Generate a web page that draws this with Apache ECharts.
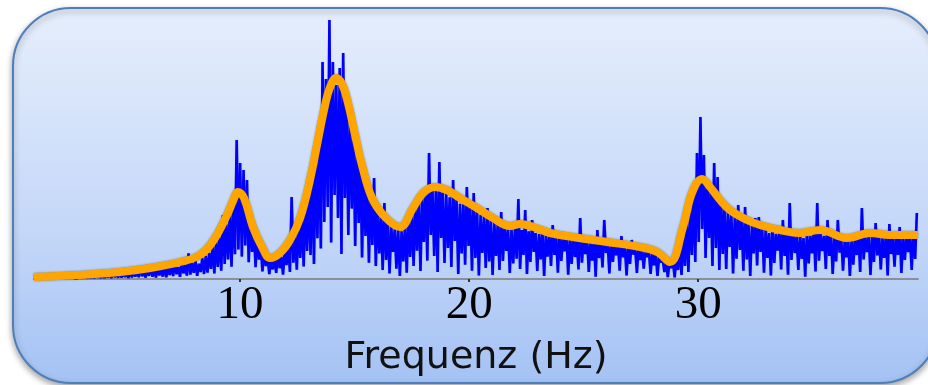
<!DOCTYPE html>
<html>
<head>
<meta charset="utf-8">
<style>
  html, body { margin: 0; padding: 0; background: #ffffff; }
  #chart { width: 928px; height: 385px; }
</style>
<script src="https://cdn.jsdelivr.net/npm/echarts@6.0.0/dist/echarts.min.js"></script>
</head>
<body>
<div id="chart"></div>
<script>
// Raw amplitude spectrum, sampled every 0.075 Hz starting at 1 Hz
const specStart = 1.0;
const specStep = 0.075;
const spectrum = [
  1.2,0.2, 1.6,0.4, 1.0,0.1, 1.8,0.3, 1.3,0.2, 1.5,0.5, 1.1,0.2, 1.9,0.3, 1.4,0.4, 1.7,0.2,
  1.8,0.3, 2.2,0.5, 1.5,0.2, 2.4,0.4, 2.0,0.6, 2.7,0.3, 1.9,0.5, 2.5,0.3, 2.9,0.7, 2.2,0.4,
  3.1,0.5, 2.6,0.8, 3.4,0.4, 3.8,0.9, 2.9,0.6, 4.2,0.7, 3.5,1.0, 3.0,0.5, 4.4,0.8, 3.7,1.2,
  4.1,0.9, 5.2,1.4, 3.8,0.7, 4.8,1.6, 6.3,1.1, 4.5,0.8, 5.6,1.8, 5.0,1.2, 6.1,0.9, 5.4,2.0,
  6.4,1.5, 7.8,2.4, 5.9,1.1, 8.5,2.8, 7.1,1.7, 12.8,2.2, 8.0,3.1, 9.2,1.6, 7.6,3.5, 10.4,2.5,
  11.5,3.2, 13.0,5.1, 16.2,2.8, 19.5,6.0, 20.8,4.2, 32.0,7.5, 27.4,9.8, 33.5,6.1, 38.0,12.4, 69.5,14.8,
  58.0,11.2, 54.5,16.8, 49.5,8.4, 31.0,13.5, 25.2,5.9, 21.4,9.7, 16.8,3.8, 14.1,6.5, 10.9,2.4, 9.6,4.8,
  10.2,3.1, 12.6,5.4, 11.0,2.2, 14.8,6.9, 17.5,3.5, 41.0,8.2, 22.4,4.6, 27.9,10.5, 31.5,6.3, 39.2,14.0,
  45.5,12.0, 55.2,7.5, 63.8,20.4, 70.5,15.2, 108.5,28.5, 100.0,36.0, 129.5,18.2, 108.5,42.0, 97.0,30.5, 105.5,12.5,
  113.0,40.5, 88.0,22.0, 84.5,35.2, 74.0,16.5, 68.2,28.0, 60.5,10.8, 55.8,21.5, 48.0,8.2, 43.5,17.0, 50.5,6.5,
  36.5,12.8, 31.2,4.5, 38.0,9.5, 28.5,2.8, 26.2,13.5, 24.8,5.2, 25.5,1.5, 23.9,8.8, 27.0,3.2, 30.4,11.0,
  33.0,6.5, 36.8,14.2, 39.5,4.0, 41.8,18.5, 45.0,9.2, 63.0,22.0, 44.5,11.5, 46.0,3.5, 58.5,20.5, 43.2,8.0,
  42.5,15.5, 40.8,6.0, 49.5,19.0, 39.5,2.5, 37.6,12.8, 38.2,7.2, 46.0,16.5, 35.8,4.2, 43.0,10.5, 33.5,1.8,
  32.0,13.0, 31.5,5.5, 35.5,8.8, 29.2,2.0, 28.5,11.5, 27.8,4.5, 33.5,9.0, 26.0,14.0, 25.5,3.0, 24.8,7.8,
  25.2,10.2, 40.0,5.0, 24.5,12.0, 34.5,2.5, 23.8,8.5, 29.5,13.5, 23.0,4.0, 22.5,9.8, 24.5,1.5, 21.8,11.2,
  22.0,6.5, 27.0,12.0, 21.2,3.2, 23.5,9.0, 20.5,13.8, 22.8,2.2, 20.0,7.5, 21.8,11.0, 19.5,4.8, 30.5,8.2,
  19.8,12.5, 21.0,3.5, 18.5,9.2, 20.2,1.2, 24.5,10.5, 18.8,5.8, 29.5,13.0, 18.0,2.8, 19.5,8.5, 17.5,11.8,
  17.8,4.2, 21.5,10.8, 16.5,1.8, 17.2,7.5, 19.5,12.2, 15.8,3.0, 16.4,9.5, 14.5,5.2, 15.2,11.0, 13.8,2.5,
  13.5,6.8, 12.2,1.5, 11.5,8.2, 10.2,3.5, 9.0,1.0, 8.2,5.5, 8.8,0.8, 11.0,4.5, 15.5,2.0, 21.5,6.5,
  28.0,3.5, 36.5,12.0, 42.0,8.5, 63.0,18.5, 81.0,25.0, 62.0,10.5, 49.0,20.5, 46.0,6.5, 58.0,15.5, 51.0,4.5,
  41.0,12.5, 36.0,5.0, 33.8,16.0, 32.5,2.8, 30.8,10.2, 37.0,14.5, 29.2,4.2, 36.0,9.8, 27.5,1.5, 26.8,12.8,
  30.5,6.8, 31.0,13.5, 24.8,3.2, 25.5,10.5, 23.0,1.8, 26.5,8.0, 22.5,14.2, 24.0,4.8, 29.5,11.5, 22.0,2.2,
  38.0,9.5, 23.5,13.0, 21.2,4.5, 22.8,10.0, 20.5,1.2, 23.8,7.8, 21.5,12.8, 24.2,3.8, 38.0,9.2, 22.5,14.0,
  21.5,5.0, 29.5,11.5, 23.0,2.5, 21.0,8.8, 29.5,13.2, 20.2,4.2, 19.5,10.8, 21.0,1.5, 19.8,7.2, 20.8,12.0,
  21.5,3.5, 35.5,9.8, 20.8,13.5, 22.2,2.0, 21.0,8.5, 28.0,11.8, 22.5,4.8, 20.5,10.5, 21.8,1.8, 27.5,12.5,
  21.0,6.2, 22.8,12.0, 26.0,3.0, 20.5,9.5, 22.0,13.5, 21.2,4.5, 24.0,10.0, 33.0
];

// Smoothed envelope of the spectrum (frequency in Hz, level)
const envFreq  = [1.00, 3.01, 4.76, 6.07, 7.38, 8.25, 8.82, 9.43, 9.69, 9.91, 10.17, 10.56, 10.96, 11.31,
                  11.74, 12.18, 12.62, 13.05, 13.40, 13.71, 13.93, 14.19, 14.45, 14.71, 15.02, 15.32, 15.76,
                  16.33, 16.98, 17.55, 17.99, 18.51, 19.03, 19.60, 20.34, 21.04, 21.79, 22.22, 22.79, 23.53,
                  24.54, 26.02, 27.46, 28.21, 28.77, 29.34, 29.73, 30.17, 30.52, 30.96, 31.39, 32.14, 32.70,
                  33.58, 34.45, 35.32, 36.50, 37.51, 38.38, 39.60];
const envLevel = [1.0, 2.0, 3.5, 5.5, 8.5, 12.0, 19.0, 32.0, 39.0, 43.5, 40.5, 26.0, 16.0, 10.5,
                  13.0, 19.5, 30.5, 49.5, 69.5, 87.0, 96.0, 100.5, 97.5, 88.0, 72.0, 57.0, 40.5,
                  31.0, 26.0, 35.5, 43.0, 46.0, 44.5, 40.5, 35.5, 30.5, 26.5, 27.5, 26.0, 23.0,
                  21.0, 18.5, 16.0, 13.5, 8.5, 26.0, 43.0, 50.0, 46.0, 39.5, 34.5, 29.5, 27.0,
                  24.5, 23.0, 24.5, 20.5, 23.0, 22.0, 22.0];

// Frequency axis
const freqMin = 1;
const freqMax = 39.6;
const freqTicks = [10, 20, 30];
const axisTitle = 'Frequenz (Hz)';

const spectrumData = spectrum.map((v, i) => [+(specStart + i * specStep).toFixed(3), v]);
const envelopeData = envFreq.map((f, i) => [f, envLevel[i]]);

const chart = echarts.init(document.getElementById('chart'), null, { renderer: 'canvas' });

chart.setOption({
  animation: false,
  backgroundColor: '#ffffff',
  graphic: [{
    type: 'rect',
    z: -10,
    silent: true,
    shape: { x: 13, y: 8, width: 925, height: 375, r: 58 },
    style: {
      fill: new echarts.graphic.LinearGradient(0, 0, 0, 1, [
        { offset: 0, color: '#E6EEFC' },
        { offset: 0.6, color: '#C4D7F8' },
        { offset: 1, color: '#A4C2F4' }
      ]),
      stroke: '#4F7FBA',
      lineWidth: 2,
      shadowColor: 'rgba(0,0,0,0.35)',
      shadowBlur: 6,
      shadowOffsetY: 3
    }
  }],
  grid: { left: 34, right: 10, top: 19, bottom: 106, containLabel: false },
  xAxis: {
    type: 'value',
    min: freqMin,
    max: freqMax,
    name: axisTitle,
    nameLocation: 'middle',
    nameGap: 60,
    nameTextStyle: { fontFamily: 'DejaVu Sans', fontSize: 38, color: '#111111' },
    axisLine: { show: true, lineStyle: { color: '#8a8f98', width: 2 } },
    axisTick: { show: true, customValues: freqTicks, length: 3, inside: false,
                lineStyle: { color: '#333333', width: 2 } },
    axisLabel: { show: true, customValues: freqTicks, margin: 3,
                 fontFamily: 'Liberation Serif', fontSize: 47, color: '#000000' },
    splitLine: { show: false }
  },
  yAxis: {
    type: 'value',
    min: 0,
    max: 130,
    show: false,
    splitLine: { show: false }
  },
  series: [
    {
      name: 'Spektrum',
      type: 'line',
      data: spectrumData,
      showSymbol: false,
      symbol: 'none',
      sampling: null,
      z: 2,
      lineStyle: { color: '#0000ff', width: 2.6,
                   shadowColor: 'rgba(70,70,120,0.35)', shadowBlur: 1 }
    },
    {
      name: 'Hüllkurve',
      type: 'line',
      data: envelopeData,
      smooth: 0.4,
      showSymbol: false,
      symbol: 'none',
      z: 3,
      lineStyle: { color: '#FFA500', width: 8,
                   shadowColor: 'rgba(60,60,60,0.55)', shadowBlur: 2 }
    }
  ]
});
</script>
</body>
</html>
